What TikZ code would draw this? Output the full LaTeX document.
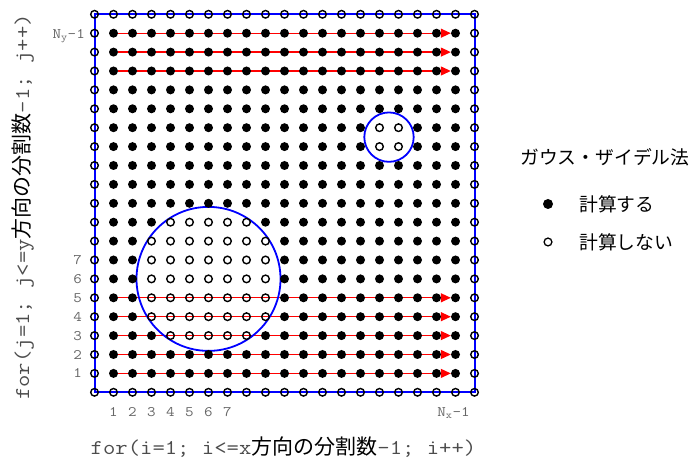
\documentclass[tikz,border=0pt]{standalone}
\usepackage{fontspec}
\setmonofont[FakeStretch=1.143]{Latin Modern Mono}
\newfontfamily\cjk{Noto Sans CJK JP}
\usetikzlibrary{arrows.meta,calc}
\pgfdeclarelayer{bg}
\pgfsetlayers{bg,main}
\begin{document}
\begin{tikzpicture}[x=1bp,y=1bp,
 filldot/.style={circle,fill=black,inner sep=0pt,minimum size=9bp},
 opendot/.style={circle,draw=black,line width=1.4bp,inner sep=0pt,minimum size=7.6bp},
 redarr/.style={red,line width=1.2bp,-{Triangle[length=10bp,width=9bp]}},
 frame/.style={blue,line width=2bp},
 ring/.style={circle,draw=blue,line width=1.8bp,inner sep=0pt},
 lbl/.style={font=\fontsize{14.5bp}{17bp}\selectfont\ttfamily,text=black!60,inner sep=0pt},
 axis/.style={font=\fontsize{21bp}{25bp}\selectfont\ttfamily,text=black!70,inner sep=0pt},
 leg/.style={font=\fontsize{18.8bp}{22bp}\selectfont\cjk,inner sep=0pt}]
\useasboundingbox (0,0) rectangle (696,463);
\foreach \i in {0,...,20}{
 \foreach \j in {0,...,20}{
  \pgfmathtruncatemacro\isopen{((\i==0)||(\i==20)||(\j==0)||(\j==20)||(((\i-6)^2+(\j-6)^2)<16)||((\i>=15)&&(\i<=16)&&(\j>=13)&&(\j<=14))) ? 1 : 0}
  \ifnum\isopen=1
   \node[opendot] (p-\i-\j) at ({94.5+19*\i},{70.7+18.9*\j}) {};
  \else
   \node[filldot] (p-\i-\j) at ({94.5+19*\i},{70.7+18.9*\j}) {};
  \fi
 }
}
\begin{pgfonlayer}{bg}
 \draw[frame] (p-0-0.center) rectangle (p-20-20.center);
 \foreach \j in {1,...,5,17,18,19}{
  \draw[redarr] (p-1-\j) -- (p-19-\j);
 }
 \node[ring,minimum size=144bp] (bigring) at (p-6-6) {};
 \node[ring,minimum size=49.4bp] (smallring) at ($(p-15-13)!0.5!(p-16-14)$) {};
\end{pgfonlayer}
% row labels
\foreach \j in {1,...,7}{
 \node[lbl,anchor=east] (ly\j) at ([xshift=-12.5bp]p-0-\j.center) {\j};
}
\node[lbl,anchor=base east] (lyN) at ([xshift=-9.5bp,yshift=-5bp]p-0-19.center) {N\textsubscript{y}-1};
% column labels
\foreach \i in {1,...,7}{
 \node[lbl,anchor=base] (lx\i) at ([yshift=-24bp]p-\i-0.center) {\i};
}
\node[lbl,anchor=base] (lxN) at ([xshift=-2bp,yshift=-24bp]p-19-0.center) {N\textsubscript{x}-1};
% axis labels
\node[axis,anchor=base] (xlab) at (283.5,8) {for(i=1; i<=x{\cjk\color{black}方向の分割数}-1; i++)};
\node[axis,rotate=90,anchor=base] (ylab) at (29,256) {for(j=1; j<=y{\cjk\color{black}方向の分割数}-1; j++)};
% legend
\node[leg,anchor=west] (legt) at (520,306) {ガウス・ザイデル法};
\node[filldot,minimum size=10bp] (lf) at (548,259) {};
\node[leg,anchor=west] (lft) at (579,259) {計算する};
\node[opendot,minimum size=7.8bp,line width=1.3bp] (lo) at (548,221) {};
\node[leg,anchor=west] (lot) at (579,221) {計算しない};
\end{tikzpicture}
\end{document}
